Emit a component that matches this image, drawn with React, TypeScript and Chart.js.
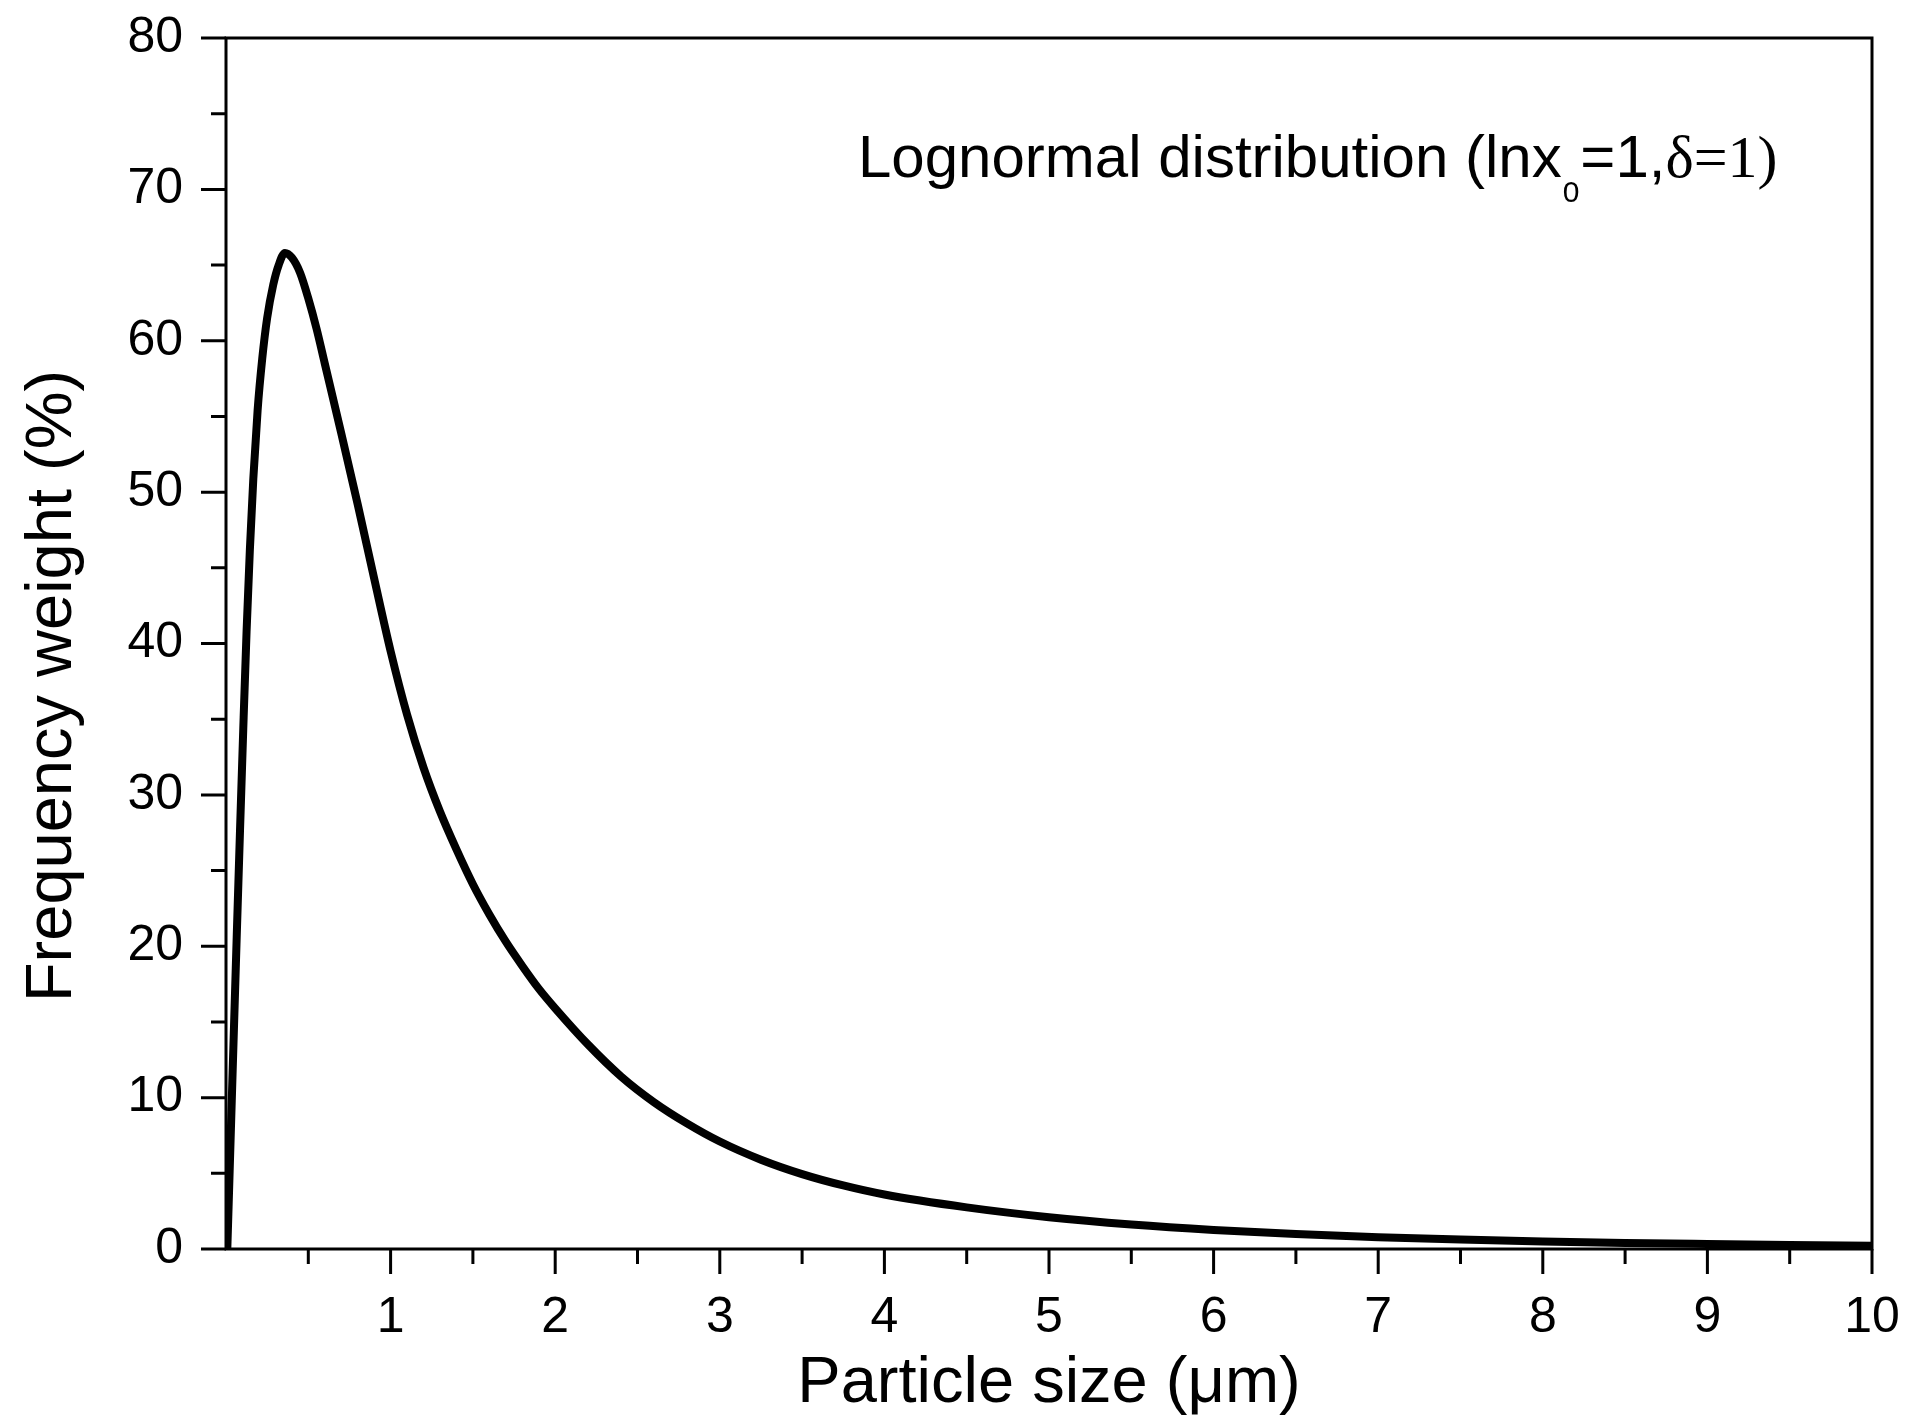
import React, { useEffect, useRef } from "react";
import { Chart, registerables } from "chart.js";

Chart.register(...registerables);

// Particle size (µm)
const X_VALUES = [0.008, 0.035, 0.065, 0.085, 0.105, 0.125, 0.145, 0.166, 0.192, 0.22, 0.25, 0.287, 0.32, 0.358, 0.4, 0.45, 0.5, 0.55, 0.6, 0.7, 0.8, 0.9, 1.0, 1.1, 1.2, 1.3, 1.4, 1.5, 1.6, 1.7, 1.8, 1.9, 2.0, 2.2, 2.4, 2.6, 2.8, 3.0, 3.25, 3.5, 3.75, 4.0, 4.5, 5.0, 5.5, 6.0, 6.5, 7.0, 7.5, 8.0, 8.5, 9.0, 9.5, 10.0];
// Frequency weight (%)
const Y_VALUES = [0, 9.8, 20.6, 27.6, 34.4, 40.8, 46.2, 50.9, 55.4, 58.8, 61.5, 63.7, 65.0, 65.8, 65.5, 64.5, 62.8, 60.8, 58.5, 53.9, 49.2, 44.3, 39.5, 35.3, 31.8, 28.9, 26.4, 24.1, 22.1, 20.3, 18.7, 17.2, 15.9, 13.5, 11.4, 9.7, 8.3, 7.1, 5.9, 4.95, 4.2, 3.6, 2.75, 2.1, 1.62, 1.26, 0.99, 0.78, 0.62, 0.5, 0.4, 0.33, 0.27, 0.22];

const X_MAJOR_TICKS = [1, 2, 3, 4, 5, 6, 7, 8, 9, 10];
const X_MINOR_TICKS = [0.5, 1.5, 2.5, 3.5, 4.5, 5.5, 6.5, 7.5, 8.5, 9.5];
const Y_MAJOR_TICKS = [0, 10, 20, 30, 40, 50, 60, 70, 80];
const Y_MINOR_TICKS = [5, 15, 25, 35, 45, 55, 65, 75];

const X_TITLE = "Particle size (\u03bcm)";
const Y_TITLE = "Frequency weight (%)";
const NOTE_MAIN = "Lognormal distribution (lnx";
const NOTE_SUB = "0";
const NOTE_MID = "=1,";
const NOTE_SERIF = "\u03b4=1)";

const SANS = "'Liberation Sans', Arial, sans-serif";
const SERIF = "'Liberation Serif', 'Times New Roman', serif";

const framePlugin = {
  id: "frameAndTicks",
  afterDraw(chart: any) {
    const ctx = chart.ctx;
    const { left, right, top, bottom } = chart.chartArea;
    const xs = chart.scales.x;
    const ys = chart.scales.y;
    ctx.save();
    ctx.strokeStyle = "#000";
    ctx.lineWidth = 3;
    ctx.lineCap = "butt";
    ctx.strokeRect(left, top, right - left, bottom - top);
    ctx.beginPath();
    const MAJ = 25;
    const MIN = 15;
    X_MAJOR_TICKS.forEach((v) => {
      const p = xs.getPixelForValue(v);
      ctx.moveTo(p, bottom);
      ctx.lineTo(p, bottom + MAJ);
    });
    X_MINOR_TICKS.forEach((v) => {
      const p = xs.getPixelForValue(v);
      ctx.moveTo(p, bottom);
      ctx.lineTo(p, bottom + MIN);
    });
    Y_MAJOR_TICKS.forEach((v) => {
      const p = ys.getPixelForValue(v);
      ctx.moveTo(left, p);
      ctx.lineTo(left - MAJ, p);
    });
    Y_MINOR_TICKS.forEach((v) => {
      const p = ys.getPixelForValue(v);
      ctx.moveTo(left, p);
      ctx.lineTo(left - MIN, p);
    });
    ctx.stroke();

    // y axis title
    ctx.fillStyle = "#000";
    ctx.font = `65px ${SANS}`;
    ctx.textAlign = "center";
    ctx.textBaseline = "middle";
    ctx.translate(53, 686);
    ctx.rotate(-Math.PI / 2);
    ctx.fillText(Y_TITLE, 0, 0);
    ctx.restore();

    // annotation
    ctx.save();
    ctx.fillStyle = "#000";
    ctx.textAlign = "left";
    ctx.textBaseline = "alphabetic";
    let x = 858;
    const base = 177;
    ctx.font = `60px ${SANS}`;
    ctx.fillText(NOTE_MAIN, x, base);
    x += ctx.measureText(NOTE_MAIN).width + 1;
    ctx.font = `30px ${SANS}`;
    ctx.fillText(NOTE_SUB, x, base + 25);
    x += ctx.measureText(NOTE_SUB).width + 1;
    ctx.font = `60px ${SANS}`;
    ctx.fillText(NOTE_MID, x, base);
    x += ctx.measureText(NOTE_MID).width;
    ctx.font = `60px ${SERIF}`;
    ctx.fillText(NOTE_SERIF, x, base);
    ctx.restore();
  },
};

export default function App() {
  const ref = useRef<HTMLCanvasElement | null>(null);
  useEffect(() => {
    document.body.style.margin = "0";
    const canvas = ref.current;
    if (!canvas) return;
    const chart = new Chart(canvas, {
      type: "scatter",
      data: {
        datasets: [
          {
            data: X_VALUES.map((x, i) => ({ x, y: Y_VALUES[i] })),
            showLine: true,
            borderColor: "#000",
            borderWidth: 8,
            pointRadius: 0,
            cubicInterpolationMode: "monotone",
            fill: false,
          },
        ],
      },
      options: {
        responsive: false,
        animation: false,
        devicePixelRatio: 1,
        layout: { padding: { top: 38, right: 59, bottom: 0, left: 0 } },
        plugins: { legend: { display: false }, tooltip: { enabled: false } },
        scales: {
          x: {
            type: "linear",
            min: 0,
            max: 10,
            afterFit: (s: any) => {
              s.height = 172;
              s.paddingLeft = 0;
              s.paddingRight = 0;
            },
            grid: { display: false, drawTicks: false },
            border: { display: false },
            ticks: {
              stepSize: 1,
              padding: 39,
              color: "#000",
              font: { family: SANS, size: 50 },
              maxRotation: 0,
              callback: (v: any) => (v === 0 ? "" : String(v)),
            },
            title: {
              display: true,
              text: X_TITLE,
              color: "#000",
              font: { family: SANS, size: 65, lineHeight: 1 },
              padding: { top: 0, bottom: 4 },
            },
          },
          y: {
            type: "linear",
            min: 0,
            max: 80,
            afterFit: (s: any) => {
              s.width = 226;
              s.paddingTop = 0;
              s.paddingBottom = 0;
            },
            grid: { display: false, drawTicks: false },
            border: { display: false },
            ticks: {
              stepSize: 10,
              padding: 43,
              color: "#000",
              font: { family: SANS, size: 50 },
            },
          },
        },
      },
      plugins: [framePlugin],
    });
    return () => chart.destroy();
  }, []);
  return (
    <canvas
      ref={ref}
      width={1931}
      height={1421}
      style={{ display: "block", width: "1931px", height: "1421px", background: "#fff" }}
    />
  );
}
